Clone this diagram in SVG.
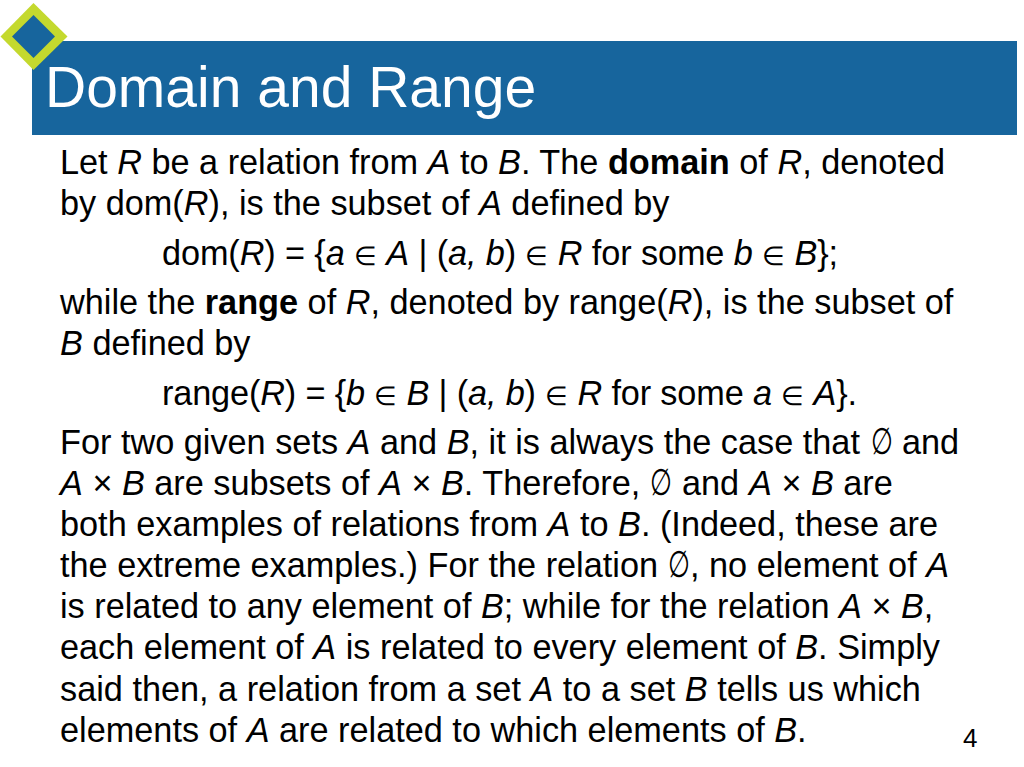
<svg xmlns="http://www.w3.org/2000/svg" width="1024" height="767" viewBox="0 0 1024 767">
<style>
text{font-family:"Liberation Sans",Arial,sans-serif;fill:#000}
.b{font-size:34.28px}
.i{font-style:italic}
.s{font-weight:bold}
.m{font-size:26px}
.e{font-size:37px}
</style>
<rect width="1024" height="767" fill="#fff"/>
<rect x="32" y="41" width="985" height="94" fill="#17659d"/>
<g id="badge"><polygon points="33.500,3 67.500,36.500 33.500,70 0.500,36.500" fill="#c4d92e"/><polygon points="33.500,15 55,36.500 33.500,58 12,36.500" fill="#17659d"/></g>
<text x="45" y="106.500" font-size="57" style="fill:#fff">Domain and Range</text>
<text class="b" x="60" y="174">Let <tspan class="i">R</tspan> be a relation from <tspan class="i">A</tspan> to <tspan class="i">B</tspan>. The <tspan class="s">domain</tspan> of <tspan class="i">R</tspan>, denoted</text>
<text class="b" x="60" y="215">by dom(<tspan class="i">R</tspan>), is the subset of <tspan class="i">A</tspan> defined by</text>
<text class="b" x="162" y="265" textLength="676">dom(<tspan class="i">R</tspan>) = {<tspan class="i">a</tspan> <tspan class="m">∈</tspan> <tspan class="i">A</tspan> | (<tspan class="i">a, b</tspan>) <tspan class="m">∈</tspan> <tspan class="i">R</tspan> for some <tspan class="i">b</tspan> <tspan class="m">∈</tspan> <tspan class="i">B</tspan>};</text>
<text class="b" x="60" y="314">while the <tspan class="s">range</tspan> of <tspan class="i">R</tspan>, denoted by range(<tspan class="i">R</tspan>), is the subset of</text>
<text class="b" x="60" y="355"><tspan class="i">B</tspan> defined by</text>
<text class="b" x="162" y="405" textLength="695">range(<tspan class="i">R</tspan>) = {<tspan class="i">b</tspan> <tspan class="m">∈</tspan> <tspan class="i">B</tspan> | (<tspan class="i">a, b</tspan>) <tspan class="m">∈</tspan> <tspan class="i">R</tspan> for some <tspan class="i">a</tspan> <tspan class="m">∈</tspan> <tspan class="i">A</tspan>}.</text>
<text class="b" x="60" y="454">For two given sets <tspan class="i">A</tspan> and <tspan class="i">B</tspan>, it is always the case that</text>
<text class="e" transform="translate(871 454) scale(.68 1)">∅</text>
<text class="b" x="902" y="454">and</text>
<text class="b" x="60" y="495"><tspan class="i">A</tspan> × <tspan class="i">B</tspan> are subsets of <tspan class="i">A</tspan> × <tspan class="i">B</tspan>. Therefore,</text>
<text class="e" transform="translate(650 495) scale(.68 1)">∅</text>
<text class="b" x="682" y="495">and <tspan class="i" x="749">A</tspan> × <tspan class="i">B</tspan> are</text>
<text class="b" x="60" y="536">both examples of relations from <tspan class="i">A</tspan> to <tspan class="i">B</tspan>. (Indeed, these are</text>
<text class="b" x="60" y="577">the extreme examples.) For the relation</text>
<text class="e" transform="translate(668 577) scale(.68 1)">∅</text>
<text class="b" x="690" y="577">, no element of <tspan class="i">A</tspan></text>
<text class="b" x="60" y="618">is related to any element of <tspan class="i">B</tspan>; while for the relation <tspan class="i">A</tspan> × <tspan class="i">B</tspan>,</text>
<text class="b" x="60" y="659">each element of <tspan class="i">A</tspan> is related to every element of <tspan class="i">B</tspan>. Simply</text>
<text class="b" x="60" y="701">said then, a relation from a set <tspan class="i">A</tspan> to a set <tspan class="i">B</tspan> tells us which</text>
<text class="b" x="60" y="742">elements of <tspan class="i">A</tspan> are related to which elements of <tspan class="i">B</tspan>.</text>
<text x="963" y="747" font-size="26">4</text>
</svg>
